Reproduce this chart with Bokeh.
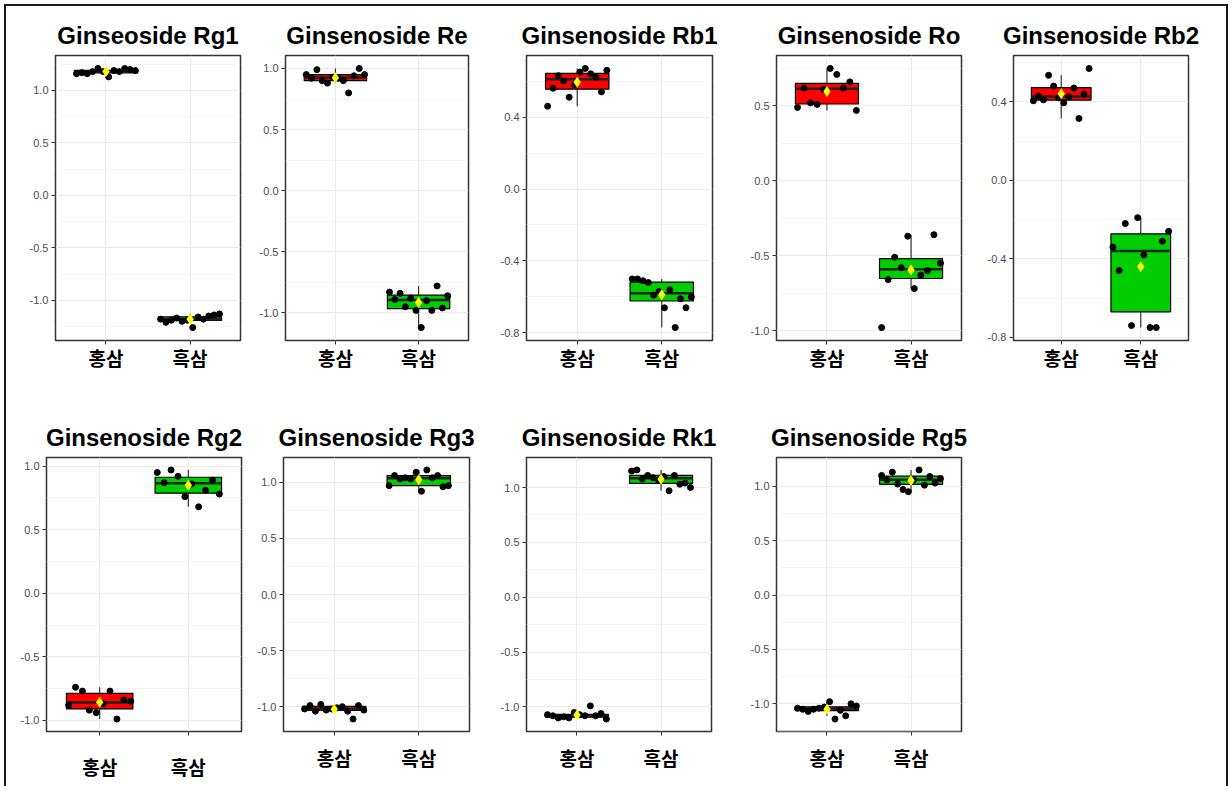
import numpy as np
from bokeh.plotting import figure
from bokeh.layouts import row, column
from bokeh.models import Range1d, FixedTicker, PrintfTickFormatter, ColumnDataSource
from bokeh.embed import file_html
from bokeh.resources import INLINE

# ---- data -------------------------------------------------------------
groups = ["홍삼", "흑삼"]

titles = ["Ginseoside Rg1", "Ginsenoside Re", "Ginsenoside Rb1", "Ginsenoside Ro",
          "Ginsenoside Rb2", "Ginsenoside Rg2", "Ginsenoside Rg3", "Ginsenoside Rk1",
          "Ginsenoside Rg5"]

rg1_red = [1.16, 1.17, 1.16, 1.18, 1.21, 1.18, 1.13, 1.19, 1.18, 1.21, 1.20, 1.19]
rg1_black = [-1.18, -1.21, -1.19, -1.17, -1.20, -1.19, -1.26, -1.16, -1.18, -1.15, -1.14, -1.13]

re_red = [0.95, 0.92, 0.99, 0.90, 0.88, 0.93, 0.92, 0.90, 0.80, 0.94, 1.00, 0.95]
re_black = [-0.83, -0.89, -0.84, -0.95, -0.88, -0.98, -1.12, -0.90, -0.98, -0.78, -0.96, -0.86]

rb1_red = [0.46, 0.56, 0.63, 0.60, 0.51, 0.58, 0.65, 0.67, 0.64, 0.62, 0.54, 0.66]
rb1_black = [-0.50, -0.50, -0.51, -0.52, -0.59, -0.57, -0.66, -0.56, -0.77, -0.61, -0.66, -0.60]

ro_red = [0.49, 0.62, 0.52, 0.51, 0.61, 0.75, 0.71, 0.62, 0.66, 0.47]
ro_black = [-0.98, -0.66, -0.51, -0.58, -0.37, -0.72, -0.63, -0.60, -0.36, -0.55]

rb2_red = [0.405, 0.43, 0.41, 0.535, 0.48, 0.42, 0.395, 0.425, 0.47, 0.315, 0.44, 0.57]
rb2_black = [-0.34, -0.46, -0.22, -0.74, -0.19, -0.38, -0.75, -0.75, -0.31, -0.26]

rg2_red = [-0.88, -0.74, -0.77, -0.92, -0.94, -0.87, -0.77, -0.99, -0.84, -0.85]
rg2_black = [0.95, 0.87, 0.97, 0.92, 0.76, 0.86, 0.68, 0.81, 0.89, 0.78]

rg3_red = [-1.02, -0.99, -1.04, -0.98, -1.03, -1.02, -1.01, -1.00, -1.04, -1.11, -0.99, -1.03]
rg3_black = [0.97, 1.06, 1.03, 1.04, 1.03, 1.09, 0.92, 1.11, 1.04, 1.06, 0.96, 0.97]

rk1_red = [-1.07, -1.08, -1.10, -1.09, -1.10, -1.05, -1.07, -1.08, -0.99, -1.08, -1.06, -1.11]
rk1_black = [1.15, 1.16, 1.08, 1.11, 1.09, 1.07, 1.10, 0.97, 1.11, 1.03, 1.04, 1.00]

rg5_red = [-1.04, -1.05, -1.07, -1.05, -1.04, -1.03, -0.98, -1.14, -1.06, -1.11, -1.00, -1.02]
rg5_black = [1.10, 1.06, 1.13, 1.02, 0.97, 0.95, 1.06, 1.15, 1.01, 1.09, 1.03, 1.07]

ticks_half = [-1.0, -0.5, 0.0, 0.5, 1.0]
ticks_four = [-0.8, -0.4, 0.0, 0.4]

series = [
    (rg1_red, rg1_black, ticks_half),
    (re_red, re_black, ticks_half),
    (rb1_red, rb1_black, ticks_four),
    (ro_red, ro_black, ticks_half),
    (rb2_red, rb2_black, ticks_four),
    (rg2_red, rg2_black, ticks_half),
    (rg3_red, rg3_black, ticks_half),
    (rk1_red, rk1_black, ticks_half),
    (rg5_red, rg5_black, ticks_half),
]

# ---- layout / style ---------------------------------------------------
FILLS = ["#FF0000", "#00CC00"]
GRID = "#EBEBEB"
FRAME = "#333333"

# (border_left, frame_w, border_right, border_top, frame_h, border_bottom, label_standoff)
geoms = [
    (49, 185, 15, 49, 285, 50, -1),
    (30, 183, 27, 49, 285, 50, -1),
    (31, 186, 28, 49, 285, 50, -1),
    (36, 185, 22, 49, 285, 50, -1),
    (30, 175, 38, 49, 285, 50, -1),
    (40, 195, 13, 67, 274, 55, 17),
    (29, 186, 28, 67, 283, 46, 8),
    (29, 185, 31, 67, 283, 46, 8),
    (34, 185, 24, 67, 283, 46, 8),
]


def box_stats(vals):
    v = np.asarray(vals, dtype=float)
    q1, med, q3 = np.percentile(v, [25, 50, 75])
    iqr = q3 - q1
    lw = v[v >= q1 - 1.5 * iqr].min()
    uw = v[v <= q3 + 1.5 * iqr].max()
    return q1, med, q3, lw, uw, v.mean()


def make_panel(title, red, black, ticks, geom):
    left, fw, right, top, fh, bottom, stand = geom
    allv = np.array(red + black, dtype=float)
    lo, hi = allv.min(), allv.max()
    pad = 0.05 * (hi - lo)
    y0, y1 = lo - pad, hi + pad

    p = figure(width=left + fw + right, height=top + fh + bottom,
               x_range=Range1d(0.4, 2.6), y_range=Range1d(y0, y1),
               output_backend="svg", toolbar_location=None,
               min_border_left=left, min_border_right=right,
               min_border_top=top, min_border_bottom=bottom,
               background_fill_color="white", border_fill_color="white",
               outline_line_color=FRAME, outline_line_width=1.5)

    p.title.text = title
    p.title.align = "center"
    p.title.text_font = "Liberation Sans"
    p.title.text_font_style = "bold"
    p.title.text_font_size = "24px"
    p.title.text_color = "black"
    p.title.standoff = 13

    # box statistics for both groups
    xs, q1s, meds, q3s, lws, uws, means = [], [], [], [], [], [], []
    for i, vals in enumerate([red, black]):
        q1, med, q3, lw, uw, mean = box_stats(vals)
        xs.append(i + 1); q1s.append(q1); meds.append(med); q3s.append(q3)
        lws.append(lw); uws.append(uw); means.append(mean)
    src = ColumnDataSource(dict(
        x=xs, q1=q1s, med=meds, q3=q3s, lw=lws, uw=uws, mean=means,
        xl=[x - 0.375 for x in xs], xr=[x + 0.375 for x in xs], fill=FILLS))

    p.segment(x0="x", y0="lw", x1="x", y1="q1", source=src, line_color=FRAME, line_width=1.2)
    p.segment(x0="x", y0="q3", x1="x", y1="uw", source=src, line_color=FRAME, line_width=1.2)
    p.vbar(x="x", width=0.75, bottom="q1", top="q3", source=src,
           fill_color="fill", line_color="black", line_width=1.2)
    p.segment(x0="xl", y0="med", x1="xr", y1="med", source=src,
              line_color="#222222", line_width=2.5)

    # spread the individual samples across the box width
    for i, vals in enumerate([red, black]):
        n = len(vals)
        jx = (i + 1) + np.linspace(-0.35, 0.35, n)
        p.scatter(x=jx, y=vals, size=6, fill_color="black", line_color="black")

    p.scatter(x="x", y="mean", source=src, marker="diamond", size=11,
              fill_color="#FFFF00", line_color=None)

    # axes
    p.xaxis.ticker = FixedTicker(ticks=[1, 2])
    p.xaxis.major_label_overrides = {1: groups[0], 2: groups[1]}
    p.xaxis.major_label_text_font = "Noto Sans CJK KR"
    p.xaxis.major_label_text_font_style = "bold"
    p.xaxis.major_label_text_font_size = "19px"
    p.xaxis.major_label_text_color = "black"
    p.xaxis.major_label_standoff = stand

    step = ticks[1] - ticks[0]
    minors = [t + step / 2 for t in [ticks[0] - step] + ticks]
    minors = [m for m in minors if y0 < m < y1]
    p.yaxis.ticker = FixedTicker(ticks=ticks, minor_ticks=minors)
    p.yaxis.formatter = PrintfTickFormatter(format="%.1f")
    p.yaxis.major_label_text_font = "Liberation Sans"
    p.yaxis.major_label_text_font_size = "11px"
    p.yaxis.major_label_text_color = "#4D4D4D"
    p.yaxis.major_label_standoff = 3

    for ax in (p.xaxis[0], p.yaxis[0]):
        ax.axis_line_color = None
        ax.major_tick_line_color = FRAME
        ax.major_tick_in = 0
        ax.major_tick_out = 4
        ax.minor_tick_line_color = None

    p.xgrid.grid_line_color = GRID
    p.ygrid.grid_line_color = GRID
    p.ygrid.minor_grid_line_color = GRID
    p.ygrid.minor_grid_line_width = 0.5
    return p


figs = [make_panel(titles[k], s[0], s[1], s[2], geoms[k]) for k, s in enumerate(series)]

layout = column(
    row(*figs[:5], spacing=0),
    row(*figs[5:], spacing=0),
    spacing=0,
    margin=(4, 0, 0, 4),
    styles={"border-top": "2px solid #1a1a1a", "border-left": "2px solid #1a1a1a",
            "border-right": "2px solid #1a1a1a", "background-color": "white"},
)

open("out.html", "w").write(file_html(layout, INLINE))
